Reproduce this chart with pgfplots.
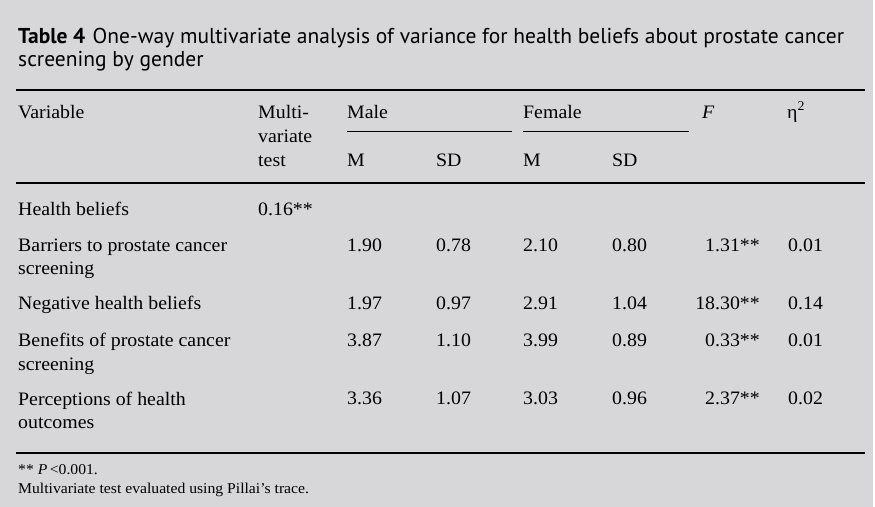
\documentclass[border=0pt]{standalone}
\usepackage{pgfplots}
\pgfplotsset{compat=1.18}
\usepackage{fontspec}
\setmainfont[FakeStretch=1.045]{Liberation Serif}
\newfontfamily\titlefont{PT Sans}
\definecolor{bg}{HTML}{D7D7D9}
\newcommand\body{\fontsize{19bp}{23bp}\selectfont}
\newcommand\foot{\fontsize{15bp}{19bp}\selectfont}
\newcommand\ttl{\titlefont\fontsize{21.5bp}{24bp}\selectfont}
\begin{document}
\begin{tikzpicture}
\begin{axis}[
  scale only axis, width=875bp, height=507bp,
  xmin=0, xmax=875, ymin=0, ymax=507, y dir=reverse,
  hide axis, clip=false,
  every node near coord/.style={anchor=base west, inner sep=0pt, font=\body, text=black},
]
\fill[white] (axis cs:0,0) rectangle (axis cs:875,507);
\fill[bg] (axis cs:0,0) rectangle (axis cs:873,507);
% title
\node[anchor=base west, inner sep=0pt, font=\ttl] at (axis cs:18,44) {\textbf{Table 4}\hspace{0.35em}One-way multivariate analysis of variance for health beliefs about prostate cancer};
\node[anchor=base west, inner sep=0pt, font=\ttl] at (axis cs:18,67) {screening by gender};
% rules
\draw[black, line width=1.3bp] (axis cs:16,90) -- (axis cs:865,90);
\draw[black, line width=1.3bp] (axis cs:16,183) -- (axis cs:865,183);
\draw[black, line width=1.3bp] (axis cs:16,453) -- (axis cs:865,453);
\draw[black, line width=1bp] (axis cs:347,131) -- (axis cs:512,131);
\draw[black, line width=1bp] (axis cs:523,131) -- (axis cs:689,131);
% header
\begin{scope}[every node/.style={anchor=base west, inner sep=0pt, font=\body}]
\node at (axis cs:18,118) {Variable};
\node at (axis cs:258,118) {Multi-};
\node at (axis cs:258,142) {variate};
\node at (axis cs:258,166) {test};
\node at (axis cs:347,118) {Male};
\node at (axis cs:523,118) {Female};
\node at (axis cs:702,118) {\textit{F}};
\node at (axis cs:787,118) {η\textsuperscript{2}};
\node at (axis cs:347,166) {M};
\node at (axis cs:436,166) {SD};
\node at (axis cs:523,166) {M};
\node at (axis cs:612,166) {SD};
% rows
\node at (axis cs:18,215) {Health beliefs};
\node at (axis cs:18,251) {Barriers to prostate cancer};
\node at (axis cs:18,274) {screening};
\node at (axis cs:18,309) {Negative health beliefs};
\node at (axis cs:18,346) {Benefits of prostate cancer};
\node at (axis cs:18,370) {screening};
\node at (axis cs:18,405) {Perceptions of health};
\node at (axis cs:18,428) {outcomes};
% footnote
\node[font=\foot] at (axis cs:18,474) {** \textit{P}\,<0.001.};
\node[font=\foot] at (axis cs:18,493) {Multivariate test evaluated using Pillai’s trace.};
\end{scope}
% values
\addplot[draw=none, mark=none, nodes near coords, point meta=explicit symbolic] coordinates {
(258,215) [0.16**]
(347,251) [1.90] (436,251) [0.78] (523,251) [2.10] (612,251) [0.80] (788,251) [0.01]
(347,309) [1.97] (436,309) [0.97] (523,309) [2.91] (612,309) [1.04] (788,309) [0.14]
(347,346) [3.87] (436,346) [1.10] (523,346) [3.99] (612,346) [0.89] (788,346) [0.01]
(347,404) [3.36] (436,404) [1.07] (523,404) [3.03] (612,404) [0.96] (788,404) [0.02]
};
\addplot[draw=none, mark=none, nodes near coords, point meta=explicit symbolic,
  every node near coord/.append style={anchor=base east}] coordinates {
(760,251) [1.31**] (760,309) [18.30**] (760,346) [0.33**] (760,404) [2.37**]
};
\end{axis}
\end{tikzpicture}
\end{document}
